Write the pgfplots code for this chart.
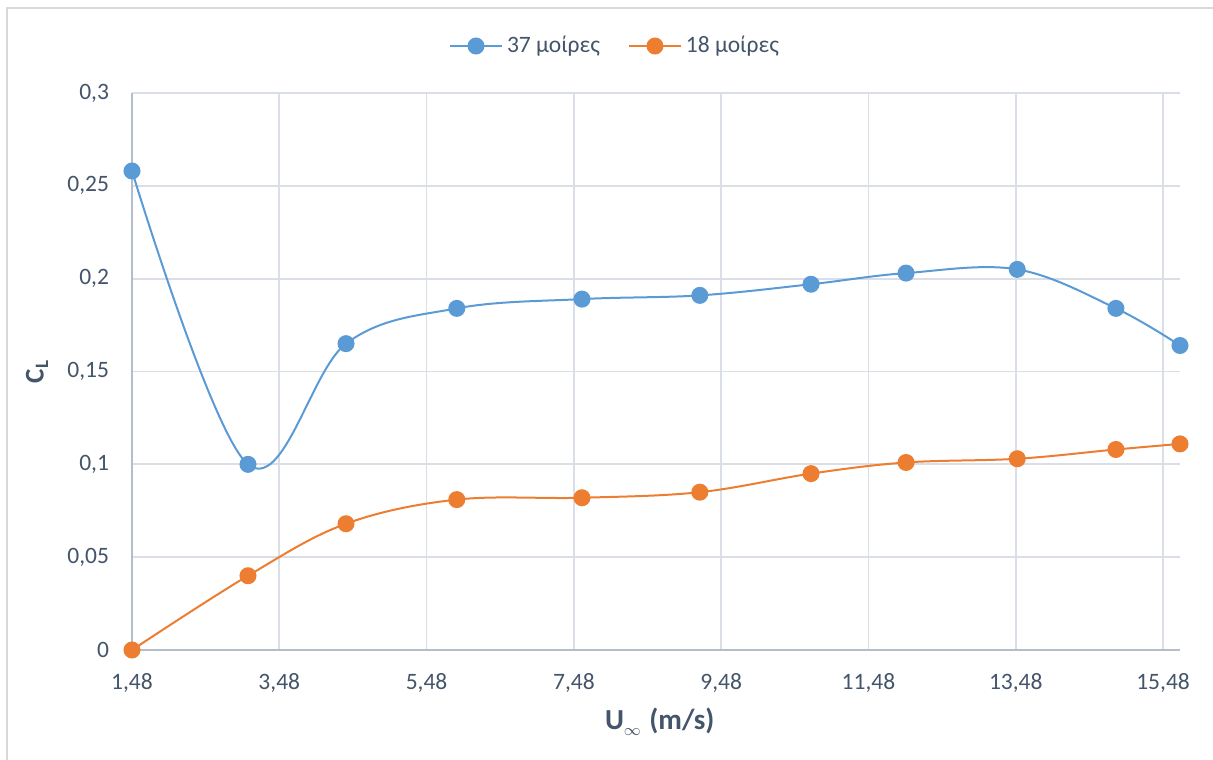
\documentclass[border=0pt]{standalone}
\usepackage{fontspec}
\setmainfont{Carlito}
\usepackage{pgfplots}
\pgfplotsset{compat=1.18}
\usetikzlibrary{calc}

\definecolor{serA}{HTML}{5B9BD5}
\definecolor{serB}{HTML}{ED7D31}
\definecolor{txt}{HTML}{44546A}
\definecolor{gridc}{HTML}{D9DEE7}
\definecolor{axc}{HTML}{B4BDCC}
\definecolor{framec}{HTML}{D9D9D9}

\newcommand{\tickfont}{\fontsize{11.75bp}{14bp}\selectfont}
\newcommand{\labfont}{\fontsize{14.5bp}{17bp}\selectfont\bfseries}
\newcommand{\ylabfont}{\fontsize{13.5bp}{16bp}\selectfont\bfseries}

\begin{document}
\begin{tikzpicture}
\begin{axis}[
  scale only axis,
  width=524bp, height=278.5bp,
  xmin=1.48, xmax=15.71, ymin=0, ymax=0.3,
  xtick={1.48,3.48,5.48,7.48,9.48,11.48,13.48,15.48},
  ytick={0,0.05,0.1,0.15,0.2,0.25,0.3},
  grid=major,
  major grid style={draw=gridc, line width=0.9bp},
  axis x line*=bottom, axis y line*=left,
  axis line style={draw=axc, line width=1.1bp, -},
  major tick length=0pt,
  tick label style={text=txt, font=\tickfont},
  xticklabel style={yshift=-8bp},
  yticklabel style={xshift=-8bp},
  /pgf/number format/.cd, use comma, fixed, precision=2, assume math mode=true,
  /pgfplots/.cd,
  xlabel={U\raisebox{-3bp}{\fontsize{8bp}{8bp}\selectfont$\infty$}\hspace{1bp} (m/s)},
  ylabel={C\textsubscript{L}},
  xlabel style={at={(axis description cs:0.5035,-0.1293)}, anchor=center, text=txt, font=\labfont},
  ylabel style={at={(axis description cs:-0.0906,0.5)}, anchor=center, text=txt, font=\ylabfont},
  clip=false,
  legend columns=-1,
  legend style={at={(axis description cs:0.4618,1.0844)}, anchor=center,
    draw=none, fill=none, font=\tickfont, text=txt,
    /tikz/every even column/.append style={column sep=12bp}},
  legend image code/.code={\draw[#1, mark repeat=2, mark phase=2] plot coordinates {(0bp,0bp) (13bp,0bp) (26bp,0bp)};},
  every axis plot/.append style={line width=1bp, smooth, tension=0.6},
]
\addplot[serA, mark=*, mark size=3.75bp, mark options={fill=serA, draw=serA}] coordinates {
  (1.48,0.258) (3.055,0.100) (4.386,0.165) (5.89,0.184) (7.59,0.189)
  (9.19,0.191) (10.70,0.197) (11.99,0.203) (13.50,0.205) (14.84,0.184) (15.71,0.164)
};
\addlegendentry{37 μοίρες}
\addplot[serB, mark=*, mark size=3.75bp, mark options={fill=serB, draw=serB}] coordinates {
  (1.48,0) (3.055,0.040) (4.386,0.068) (5.89,0.081) (7.59,0.082)
  (9.19,0.085) (10.70,0.095) (11.99,0.101) (13.50,0.103) (14.84,0.108) (15.71,0.111)
};
\addlegendentry{18 μοίρες}
\coordinate (sw) at (rel axis cs:0,0);
\coordinate (ne) at (rel axis cs:1,1);
\end{axis}
\path[use as bounding box] ($(sw)+(-66bp,-55bp)$) rectangle ($(ne)+(16.5bp,46.5bp)$);
\draw[framec, line width=1bp] ($(sw)+(-62.5bp,-80bp)$) -- ($(sw|-ne)+(-62.5bp,42.5bp)$) -- ($(ne)+(40bp,42.5bp)$);
\end{tikzpicture}
\end{document}
